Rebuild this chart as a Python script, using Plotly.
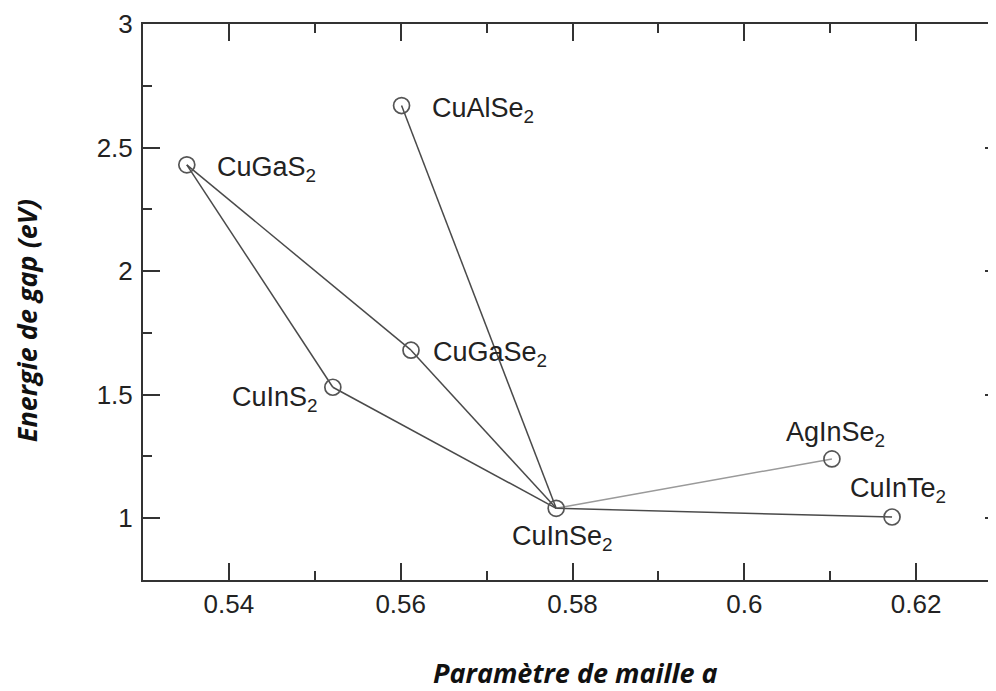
import plotly.graph_objects as go

# ---- data ----
materials = ["CuGaS2", "CuAlSe2", "CuGaSe2", "CuInS2", "CuInSe2", "AgInSe2", "CuInTe2"]
labels = ["CuGaS<sub>2</sub>", "CuAlSe<sub>2</sub>", "CuGaSe<sub>2</sub>", "CuInS<sub>2</sub>",
          "CuInSe<sub>2</sub>", "AgInSe<sub>2</sub>", "CuInTe<sub>2</sub>"]
lattice_a = [0.5351, 0.5601, 0.5612, 0.5521, 0.5781, 0.6102, 0.6172]
gap_ev = [2.43, 2.67, 1.68, 1.53, 1.04, 1.24, 1.005]
links_from = ["CuGaS2", "CuGaSe2", "CuGaS2", "CuInS2", "CuAlSe2", "CuInSe2", "CuInSe2"]
links_to = ["CuGaSe2", "CuInSe2", "CuInS2", "CuInSe2", "CuInSe2", "AgInSe2", "CuInTe2"]
links_color = ["#4a4a4a", "#4a4a4a", "#4a4a4a", "#4a4a4a", "#4a4a4a", "#9a9a9a", "#4a4a4a"]

x_tickvals = [0.54, 0.56, 0.58, 0.60, 0.62]
x_ticktext = ["0.54", "0.56", "0.58", "0.6", "0.62"]
y_tickvals = [1, 1.5, 2, 2.5, 3]
y_ticktext = ["1", "1.5", "2", "2.5", "3"]

# label placement (style)
label_style = {
    "CuGaS2": dict(xanchor="left", yanchor="middle", xshift=28, yshift=-4),
    "CuAlSe2": dict(xanchor="left", yanchor="middle", xshift=28, yshift=-4),
    "CuGaSe2": dict(xanchor="left", yanchor="middle", xshift=20, yshift=-4),
    "CuInS2": dict(xanchor="right", yanchor="middle", xshift=-13, yshift=-12),
    "CuInSe2": dict(xanchor="center", yanchor="top", xshift=6, yshift=-11),
    "AgInSe2": dict(xanchor="center", yanchor="bottom", xshift=4, yshift=6),
    "CuInTe2": dict(xanchor="center", yanchor="bottom", xshift=6, yshift=8),
}

idx = {m: i for i, m in enumerate(materials)}
fig = go.Figure()

for a, b, c in zip(links_from, links_to, links_color):
    fig.add_trace(go.Scatter(
        x=[lattice_a[idx[a]], lattice_a[idx[b]]],
        y=[gap_ev[idx[a]], gap_ev[idx[b]]],
        mode="lines", line=dict(color=c, width=1.5),
        showlegend=False, hoverinfo="skip"))

fig.add_trace(go.Scatter(
    x=lattice_a, y=gap_ev, mode="markers",
    marker=dict(symbol="circle-open", size=16, color="#555555", line=dict(width=1.7, color="#555555")),
    showlegend=False))

font_lbl = dict(family="Liberation Sans, Arial, sans-serif", size=27, color="#222222")
for m, lab, xv, yv in zip(materials, labels, lattice_a, gap_ev):
    fig.add_annotation(x=xv, y=yv, xref="x", yref="y", text=lab, showarrow=False,
                       font=font_lbl, **label_style[m])

axis_font = dict(family="Liberation Sans, Arial, sans-serif", size=26, color="#222222")
common = dict(ticks="inside", ticklen=17, tickwidth=2, tickcolor="#333333",
              showline=True, linecolor="#333333", linewidth=2, mirror="allticks",
              showgrid=False, zeroline=False, tickfont=axis_font)
fig.update_xaxes(
    range=[0.53, 0.63], tickvals=x_tickvals, ticktext=x_ticktext, **common,
    minor=dict(ticks="inside", ticklen=9, tickwidth=2, tickcolor="#333333", dtick=0.01, tick0=0.53, showgrid=False),
)
fig.update_yaxes(
    range=[0.75, 3], tickvals=y_tickvals, ticktext=y_ticktext, ticklabelstandoff=3, **common,
    minor=dict(ticks="inside", ticklen=9, tickwidth=2, tickcolor="#333333", dtick=0.25, tick0=0.75, showgrid=False),
)

title_font = dict(family="Open Sans, sans-serif", size=27, color="#111111")
fig.add_annotation(xref="paper", yref="paper", x=-0.1347, y=0.466, text="<b><i>Energie de gap (eV)</i></b>",
                   textangle=-90, showarrow=False, font=title_font, xanchor="center", yanchor="middle")
fig.add_annotation(xref="paper", yref="paper", x=0.504, y=-0.1655, text="<b><i>Paramètre de maille a</i></b>",
                   showarrow=False, font=title_font, xanchor="center", yanchor="middle")

fig.update_layout(
    width=996, height=691,
    margin=dict(l=135, r=0, t=16, b=119),
    plot_bgcolor="white", paper_bgcolor="white",
)

fig.write_html("out.html")
